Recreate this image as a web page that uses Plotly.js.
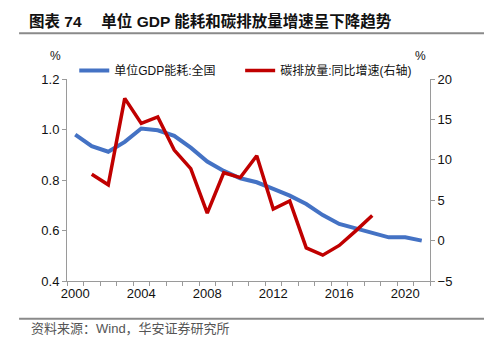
<!DOCTYPE html>
<html>
<head>
<meta charset="utf-8">
<script src="https://cdn.plot.ly/plotly-3.0.1.min.js"></script>
<style>html,body{margin:0;padding:0;background:#fff;}#chart{width:484px;height:355px;}</style>
</head>
<body>
<div id="chart"></div>
<script>
var yearsEnergy = [2000,2001,2002,2003,2004,2005,2006,2007,2008,2009,2010,2011,2012,2013,2014,2015,2016,2017,2018,2019,2020,2021];
var energyPerGDP = [0.98,0.934,0.912,0.951,1.004,0.997,0.975,0.928,0.873,0.836,0.807,0.791,0.765,0.738,0.705,0.661,0.626,0.609,0.59,0.573,0.573,0.56];
var yearsCO2 = [2001,2002,2003,2004,2005,2006,2007,2008,2009,2010,2011,2012,2013,2014,2015,2016,2017,2018];
var co2Growth = [8.2,6.9,17.6,14.5,15.3,11.2,8.9,3.4,8.4,7.8,10.5,3.9,4.9,-0.9,-1.8,-0.6,1.2,3.1];
var xTickVals = [2000,2004,2008,2012,2016,2020];
var xTickText = ['2000','2004','2008','2012','2016','2020'];
var nameEnergy = '单位GDP能耗:全国';
var nameCO2 = '碳排放量:同比增速(右轴)';
var titleText = '图表 74　 单位 GDP 能耗和碳排放量增速呈下降趋势';
var sourceText = '资料来源：Wind，华安证券研究所';

var FONT = '"Liberation Sans", Arial, "Noto Sans CJK SC", sans-serif';
var AX = '#9a9a9a';

var traces = [
  {x: yearsEnergy, y: energyPerGDP, type: 'scatter', mode: 'lines', name: nameEnergy,
   line: {color: '#4472C4', width: 4}, yaxis: 'y', legend: 'legend'},
  {x: yearsCO2, y: co2Growth, type: 'scatter', mode: 'lines', name: nameCO2,
   line: {color: '#C00000', width: 3.5}, yaxis: 'y2', legend: 'legend2'}
];

var legendBase = {orientation: 'h', xanchor: 'left', y: 1.042, yanchor: 'middle',
  font: {size: 12, color: '#111'}, bgcolor: 'rgba(0,0,0,0)', borderwidth: 0, itemwidth: 30};

var layout = {
  width: 484, height: 355,
  margin: {l: 67, r: 54, t: 79, b: 74, pad: 0},
  paper_bgcolor: '#fff', plot_bgcolor: '#fff',
  font: {family: FONT, size: 13, color: '#111'},
  showlegend: true,
  legend: Object.assign({}, legendBase, {x: 0.02}),
  legend2: Object.assign({}, legendBase, {x: 0.477}),
  title: {text: titleText, xref: 'container', yref: 'container', x: 29/484, xanchor: 'left',
          y: 1 - 21.7/355, yanchor: 'middle', font: {size: 15.5, color: '#111', weight: 'bold'}},
  xaxis: {range: [1999.5, 2021.5], tickmode: 'array', tickvals: xTickVals, ticktext: xTickText,
          ticks: 'outside', ticklen: 0, tickcolor: AX, showline: true, linecolor: AX, linewidth: 1,
          showgrid: false, zeroline: false, tickfont: {size: 13},
          minor: {tickmode: 'linear', tick0: 1999.5, dtick: 1, ticks: 'outside', ticklen: 4, tickcolor: AX, showgrid: false}},
  yaxis: {range: [0.4, 1.2], dtick: 0.2, tick0: 0.4, tickformat: '.1f', ticks: 'outside', ticklen: 4,
          tickcolor: AX, showline: true, linecolor: AX, linewidth: 1, showgrid: false, zeroline: false,
          tickfont: {size: 13}},
  yaxis2: {range: [-5, 20], dtick: 5, tick0: -5, overlaying: 'y', side: 'right', ticks: 'outside', ticklen: 4,
           tickcolor: AX, showline: true, linecolor: AX, linewidth: 1, showgrid: false, zeroline: false,
           tickfont: {size: 13}},
  shapes: [
    {type: 'line', xref: 'paper', yref: 'paper', x0: -0.132, x1: 1.149, y0: 1.226, y1: 1.226,
     line: {color: '#8a8a8a', width: 2}},
    {type: 'line', xref: 'paper', yref: 'paper', x0: -0.132, x1: 1.149, y0: -0.187, y1: -0.187,
     line: {color: '#8a8a8a', width: 2}}
  ],
  annotations: [
    {text: '%', xref: 'paper', yref: 'paper', x: -0.033, y: 1.114, xanchor: 'center', yanchor: 'middle',
     showarrow: false, font: {size: 12, color: '#111'}},
    {text: '%', xref: 'paper', yref: 'paper', x: 0.975, y: 1.114, xanchor: 'center', yanchor: 'middle',
     showarrow: false, font: {size: 12, color: '#111'}},
    {text: sourceText, xref: 'paper', yref: 'paper', x: -0.1047, y: -0.233, xanchor: 'left', yanchor: 'middle',
     showarrow: false, font: {size: 13, color: '#555'}}
  ]
};

Plotly.newPlot('chart', traces, layout, {displayModeBar: false, staticPlot: true});
</script>
</body>
</html>
